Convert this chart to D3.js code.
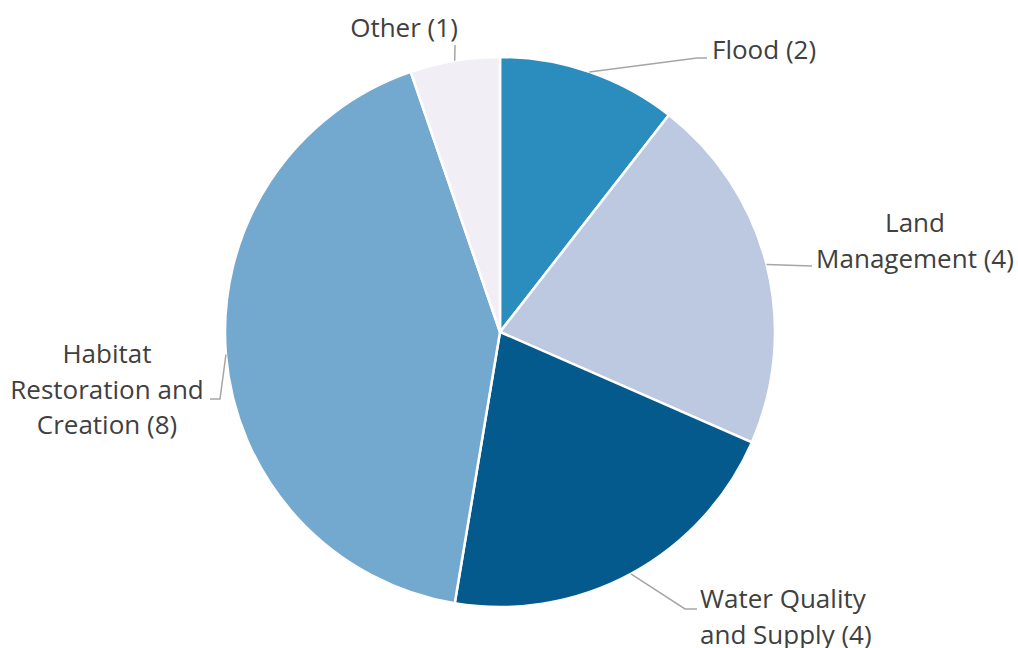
<!DOCTYPE html>
<html>
<head>
<meta charset="utf-8">
<script src="https://cdn.jsdelivr.net/npm/d3@7"></script>
<style>
  html, body { margin: 0; padding: 0; background: #ffffff; }
  svg { display: block; }
  text { font-family: "Open Sans", Lato, sans-serif; fill: #404040; }
</style>
</head>
<body>
<svg id="chart" width="1018" height="648"></svg>
<script>
// Project counts by category
const categories = ["Flood", "Land Management", "Water Quality and Supply", "Habitat Restoration and Creation", "Other"];
const counts = [2, 4, 4, 8, 1];
const labelLines = [
  ["Flood (2)"],
  ["Land", "Management (4)"],
  ["Water Quality", "and Supply (4)"],
  ["Habitat", "Restoration and", "Creation (8)"],
  ["Other (1)"]
];
const colors = ["#2b8cbe", "#bdc9e1", "#045a8d", "#74a9cf", "#f1eef6"];

// Label placement: leader elbow point, leader end, text anchor point, alignment
const labelLayout = [
  { elbow: [697, 58], end: [707, 58], tx: 712, ty: 59, anchor: "start" },
  { elbow: [812, 266], end: [812, 266], tx: 915, ty: 232, anchor: "middle" },
  { elbow: [685, 609], end: [697, 609], tx: 700, ty: 608, anchor: "start" },
  { elbow: [220, 399], end: [210, 399], tx: 107, ty: 363, anchor: "middle" },
  { elbow: [455, 45], end: [455, 45], tx: 404, ty: 37, anchor: "middle" }
];

const width = 1018, height = 648;
const cx = 500, cy = 332, radius = 275;
const lineHeight = 35.5;

const svg = d3.select("#chart");
const g = svg.append("g").attr("transform", `translate(${cx},${cy})`);

const pie = d3.pie().sort(null).value(d => d.value);
const arcs = pie(categories.map((c, i) => ({ name: c, value: counts[i], i })));
const arc = d3.arc().innerRadius(0).outerRadius(radius);

g.selectAll("path.slice")
  .data(arcs)
  .join("path")
  .attr("class", "slice")
  .attr("d", arc)
  .attr("fill", d => colors[d.data.i])
  .attr("stroke", "#ffffff")
  .attr("stroke-width", 2.5)
  .attr("stroke-linejoin", "round");

// Leader lines from slice edge midpoints
const edgePoint = d => {
  const a = (d.startAngle + d.endAngle) / 2;
  return [cx + radius * Math.sin(a), cy - radius * Math.cos(a)];
};

svg.selectAll("polyline.leader")
  .data(arcs)
  .join("polyline")
  .attr("class", "leader")
  .attr("points", d => {
    const L = labelLayout[d.data.i];
    const p = edgePoint(d);
    return [p, L.elbow, L.end].map(q => q.join(",")).join(" ");
  })
  .attr("fill", "none")
  .attr("stroke", "#a6a6a6")
  .attr("stroke-width", 1.5);

const labels = svg.selectAll("text.label")
  .data(arcs)
  .join("text")
  .attr("class", "label")
  .attr("font-size", 26)
  .attr("text-anchor", d => labelLayout[d.data.i].anchor)
  .attr("x", d => labelLayout[d.data.i].tx)
  .attr("y", d => labelLayout[d.data.i].ty);

labels.selectAll("tspan")
  .data(d => labelLines[d.data.i].map(t => ({ t, L: labelLayout[d.data.i] })))
  .join("tspan")
  .attr("x", d => d.L.tx)
  .attr("dy", (d, j) => j === 0 ? 0 : lineHeight)
  .text(d => d.t);
</script>
</body>
</html>
